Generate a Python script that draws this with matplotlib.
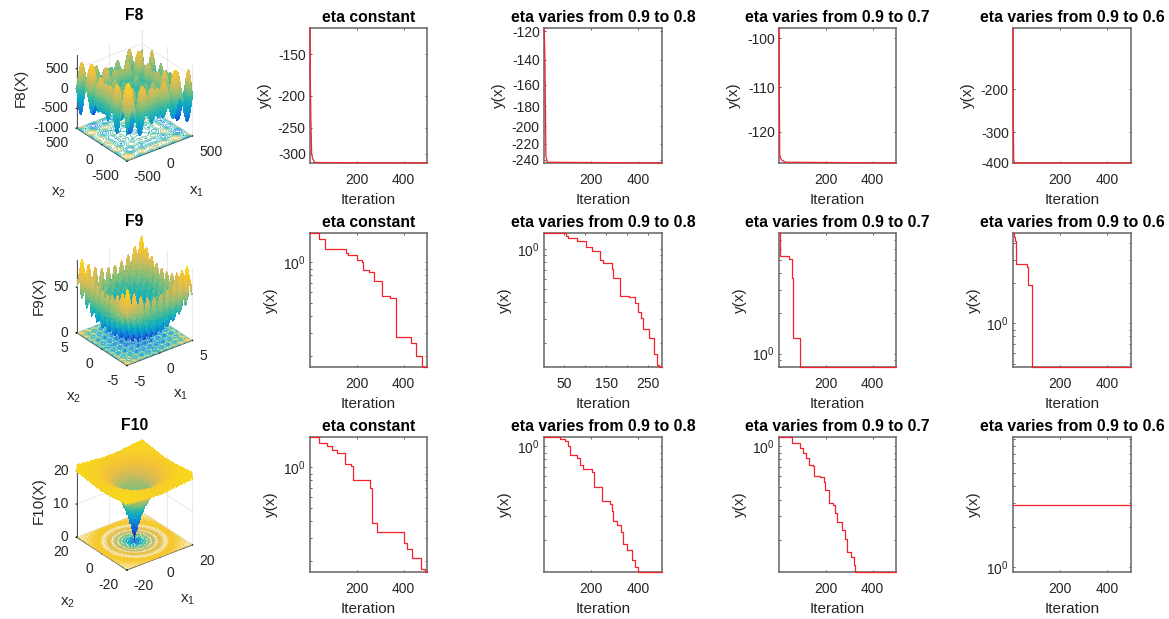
# Convergence curves and benchmark surfaces for F8, F9 and F10
# The three surfaces are the standard benchmark functions (Schwefel, Rastrigin,
# Ackley) evaluated on a grid: too dense to read off the picture point by point.
# All convergence curves below.

import numpy as np
import matplotlib
matplotlib.use('Agg')
import matplotlib.pyplot as plt
from matplotlib.colors import LinearSegmentedColormap
from mpl_toolkits.mplot3d import proj3d

plt.rcParams['font.family'] = ['Liberation Sans', 'DejaVu Sans']
plt.rcParams['axes.unicode_minus'] = False
plt.rcParams['mathtext.fontset'] = 'custom'
plt.rcParams['mathtext.rm'] = 'Liberation Sans'
plt.rcParams['mathtext.it'] = 'Liberation Sans:italic'
plt.rcParams['mathtext.bf'] = 'Liberation Sans:bold'
plt.rcParams['mathtext.default'] = 'regular'
plt.rcParams['grid.color'] = '#e2e2e2'
plt.rcParams['grid.linewidth'] = 0.5

W, H = 1169, 619
TEXT = '#262626'
LINE = '#f5222d'

TITLES = ['eta constant', 'eta varies from 0.9 to 0.8', 'eta varies from 0.9 to 0.7', 'eta varies from 0.9 to 0.6']
COL_LEFT = [310, 544, 779, 1013]
COL_RIGHT = [427, 662, 896, 1131]
ROW_TOP = [28, 233, 437]
ROW_BOTTOM = [163, 367, 572]
COL0_CENTER = 134.5

# F8, y(x) on a log scale of |y|
F8_ITER = [[1, 2, 5, 8, 12, 22, 500],
           [1, 3, 5, 9, 15, 500],
           [1, 4, 11, 28, 500],
           [1, 2, 4, 6, 500]]
F8_Y = [[-125, -174, -240, -299, -310, -319, -320],
        [-118, -125, -140, -235, -243, -244],
        [-98, -125.6, -126.7, -127.3, -127.5],
        [-112, -243, -385, -400, -400]]
F8_TICKS = [[-150, -200, -250, -300],
            [-120, -140, -160, -180, -200, -220, -240],
            [-100, -110, -120],
            [-200, -300, -400]]
F8_LIMS = [(-320, -125), (-244, -118), (-127.5, -98), (-400, -112)]

# F9, log10 of y(x)
F9_ITER = [[1, 39, 66, 154, 164, 200, 221, 228, 254, 275, 309, 342, 366, 430, 451, 478, 500],
           [1, 54, 59, 79, 102, 115, 135, 143, 163, 167, 184, 206, 219, 227, 233, 238, 253, 266, 271, 278, 284],
           [1, 5, 45, 58, 61, 67, 89, 92, 500],
           [1, 7, 11, 15, 62, 66, 81, 500]]
F9_LOGY = [[.22, .175, .1, .07, .0525, .02, 0, -.055, -.07, -.14, -.2475, -.2675, -.555, -.5975, -.695, -.78, -.78],
           [.12, .1, .0825, .0625, .015, -.0175, -.08, -.105, -.15, -.215, -.35, -.36, -.405, -.4675, -.5175, -.6, -.66, -.785, -.8675, -.88, -.88],
           [.9, .725, .705, .5625, .12, .12, -.1, -.1, -.1],
           [.675, .645, .6125, .445, .425, .2875, -.325, -.325]]
F9_LIMS = [(-.78, .22), (-.88, .12), (-.1, .9), (-.325, .675)]
F9_XMAX = [500, 284, 500, 500]

# F10, log10 of y(x)
F10_ITER = [[1, 39, 75, 93, 117, 150, 176, 183, 259, 265, 288, 404, 413, 437, 474, 491, 500],
            [1, 47, 69, 90, 104, 111, 139, 153, 167, 203, 213, 246, 280, 287, 294, 308, 327, 337, 351, 372, 386, 397, 403, 500],
            [1, 55, 92, 105, 115, 131, 145, 151, 174, 191, 198, 216, 231, 241, 248, 269, 283, 293, 308, 319, 325, 500],
            [1, 500]]
F10_LOGY = [[.2275, .1825, .1575, .1325, .1075, .025, .0075, -.0925, -.155, -.4175, -.485, -.5625, -.605, -.675, -.76, -.78, -.78],
            [.07, .07, .0575, .0375, 0, -.0675, -.0875, -.1375, -.1675, -.1925, -.3, -.4075, -.4325, -.4825, -.5575, -.5875, -.6425, -.725, -.775, -.85, -.9, -.9375, -.9375, -.9375],
            [.07, .025, -.0125, -.05, -.0875, -.1375, -.15, -.22, -.23, -.2625, -.325, -.425, -.4375, -.5, -.5675, -.625, -.6925, -.7875, -.825, -.8875, -.9375, -.9375],
            [.465, .465]]
F10_LIMS = [(-.78, .2275), (-.9375, .07), (-.9375, .07), (-.0375, .97)]

MINOR_LOG = [.2, .3, .4, .5, .6, .7, .8, .9, 2, 3, 4, 5, 6, 7, 8, 9]

# Surface panels
SURF_TITLES = ['F8', 'F9', 'F10']
SURF_ZLABELS = ['F8(X)', 'F9(X)', 'F10(X)']
SURF_XY_TICKS = [[-500, 0, 500], [-5, 0, 5], [-20, 0, 20]]
SURF_Z_TICKS = [[-1000, -500, 0, 500], [0, 50], [0, 10, 20]]
SURF_Z_LIMS = [(-1000, 840), (0, 80), (0, 22)]
SURF_STEP = [10, 0.1, 0.5]
# label offsets in pixels from the axis middle / left edge
X1_OFFSET = [(37, -43), (21, -42), (28, -42)]
X2_OFFSET = [(-43, -48), (-28, -49), (-34, -49)]
ZLABEL_DX = [-56, -38, -38]
ZLABEL_DY = [4, 0, 0]

PARULA = LinearSegmentedColormap.from_list('parula', ['#352A87', '#0F5CDD', '#1481D6', '#06A4CA', '#2EB7A4',
                                                      '#87BF77', '#D1BB59', '#F5C236', '#F6D81C'])


def f8(x, y):
    return -x * np.sin(np.sqrt(np.abs(x))) - y * np.sin(np.sqrt(np.abs(y)))


def f9(x, y):
    return 20 + x ** 2 + y ** 2 - 10 * (np.cos(2 * np.pi * x) + np.cos(2 * np.pi * y))


def f10(x, y):
    return (20 + np.e - 20 * np.exp(-0.2 * np.sqrt(0.5 * (x ** 2 + y ** 2)))
            - np.exp(0.5 * (np.cos(2 * np.pi * x) + np.cos(2 * np.pi * y))))


def axes_px(fig, left, right, top, bottom, **kw):
    return fig.add_axes([left / W, 1 - bottom / H, (right - left) / W, (bottom - top) / H], **kw)


def style_axes(ax, title, xmax, xticks, xlabels):
    ax.set_xlim(1, xmax)
    ax.set_xticks(xticks)
    ax.set_xticklabels(xlabels)
    ax.set_title(title, fontsize=11.3, fontweight='bold', color='black', pad=4)
    ax.set_xlabel('Iteration', fontsize=11, color=TEXT, labelpad=4.5)
    ax.set_ylabel('y(x)', fontsize=11, color=TEXT, labelpad=4)
    ax.tick_params(which='both', direction='in', top=True, right=True, length=1.5, width=0.6,
                   color='#404040', labelcolor=TEXT)
    ax.tick_params(axis='x', which='major', labelsize=10, pad=7)
    ax.tick_params(axis='y', which='major', labelsize=10, pad=3)
    for spine in ax.spines.values():
        spine.set_color('#707070')
        spine.set_linewidth(1.2)


def label_3d(ax, x, y, z, dx, dy, text, **kw):
    # text at a pixel offset from a point of the 3d box
    px, py, _ = proj3d.proj_transform(x, y, z, ax.get_proj())
    ax.annotate(text, xy=(px, py), xytext=(dx, dy), textcoords='offset pixels', color=TEXT,
                annotation_clip=False, **kw)


def draw_surface(fig, r, func):
    side = 140
    cy = (ROW_TOP[r] + ROW_BOTTOM[r]) / 2
    left = COL0_CENTER - 0.5135 * side
    bottom = H - cy - 0.5135 * side
    ax = fig.add_axes([left / W, bottom / H, side / W, side / H], projection='3d',
                      proj_type='ortho', computed_zorder=False)
    ax.patch.set_alpha(0)
    ticks = SURF_XY_TICKS[r]
    lim = ticks[-1]
    g = np.arange(-lim, lim + SURF_STEP[r] / 2, SURF_STEP[r])
    X, Y = np.meshgrid(g, g)
    Z = func(X, Y)
    zlo, zhi = SURF_Z_LIMS[r]
    ax.contour(X, Y, Z, levels=10, zdir='z', offset=zlo, cmap=PARULA, linewidths=0.5, zorder=1)
    ax.plot_surface(X, Y, Z, cmap=PARULA, rstride=1, cstride=1, linewidth=0, antialiased=False,
                    shade=False, zorder=2)
    ax.set_xlim(-lim, lim)
    ax.set_ylim(-lim, lim)
    ax.set_zlim(zlo, zhi)
    ax.view_init(elev=30, azim=-127.5)
    ax.set_box_aspect((1, 1, 1.02))
    ax.set_xticks(ticks)
    ax.set_yticks(ticks)
    ax.set_zticks(SURF_Z_TICKS[r])
    ax.set_xticklabels([])
    ax.set_yticklabels([])
    ax.set_zticklabels([])
    for axis in (ax.xaxis, ax.yaxis, ax.zaxis):
        axis.set_pane_color((1, 1, 1, 0))
        axis.pane.set_edgecolor('#e2e2e2')
        axis.line.set_color('#505050')
        axis.line.set_linewidth(0.7)
        axis._axinfo['tick']['inward_factor'] = 0.05
        axis._axinfo['tick']['outward_factor'] = 0

    ax.apply_aspect()
    for t in ticks:
        label_3d(ax, t, -lim, zlo, 7, -16, str(t), ha='left', va='center', fontsize=10)
        label_3d(ax, -lim, t, zlo, -8, -15, str(t), ha='right', va='center', fontsize=10)
    for t in SURF_Z_TICKS[r]:
        label_3d(ax, -lim, lim, t, -8, 0, str(t), ha='right', va='center', fontsize=10)
    label_3d(ax, 0, -lim, zlo, X1_OFFSET[r][0], X1_OFFSET[r][1], 'x$_1$', ha='center', va='center', fontsize=11)
    label_3d(ax, -lim, 0, zlo, X2_OFFSET[r][0], X2_OFFSET[r][1], 'x$_2$', ha='center', va='center', fontsize=11)
    label_3d(ax, -lim, lim, (zlo + zhi) / 2, ZLABEL_DX[r], ZLABEL_DY[r], SURF_ZLABELS[r], ha='center', va='center',
             fontsize=11, rotation=90)
    fig.text(COL0_CENTER / W, 1 - (ROW_TOP[r] - 12) / H, SURF_TITLES[r], fontsize=11.3, fontweight='bold',
             ha='center', va='center', color='black')


def draw_line(ax, iters, values, step=True):
    kw = dict(color=LINE, lw=0.9, zorder=3, clip_on=False)
    if step:
        ax.step(iters, values, where='post', **kw)
    else:
        ax.plot(iters, values, **kw)


fig = plt.figure(figsize=(W / 100, H / 100), dpi=100)

for c in range(4):
    # F8 row
    ax = axes_px(fig, COL_LEFT[c], COL_RIGHT[c], ROW_TOP[0], ROW_BOTTOM[0])
    ax.set_yscale('function', functions=(lambda v: -np.log10(np.abs(v)), lambda v: -10.0 ** (-v)))
    draw_line(ax, F8_ITER[c], F8_Y[c], step=False)
    ax.set_yticks(F8_TICKS[c])
    ax.set_yticklabels([str(t) for t in F8_TICKS[c]])
    ax.set_ylim(*F8_LIMS[c])
    style_axes(ax, TITLES[c], 500, [200, 400], ['200', '400'])

    # F9 row
    ax = axes_px(fig, COL_LEFT[c], COL_RIGHT[c], ROW_TOP[1], ROW_BOTTOM[1])
    ax.set_yscale('log')
    draw_line(ax, F9_ITER[c], 10.0 ** np.array(F9_LOGY[c]))
    ax.set_yticks([1])
    ax.set_yticks(MINOR_LOG, minor=True)
    ax.set_yticklabels(['$10^{0}$'])
    ax.set_yticklabels([], minor=True)
    ax.set_ylim(10 ** F9_LIMS[c][0], 10 ** F9_LIMS[c][1])
    if F9_XMAX[c] == 500:
        style_axes(ax, TITLES[c], 500, [200, 400], ['200', '400'])
    else:
        style_axes(ax, TITLES[c], F9_XMAX[c], [50, 100, 150, 200, 250], ['50', '', '150', '', '250'])

    # F10 row
    ax = axes_px(fig, COL_LEFT[c], COL_RIGHT[c], ROW_TOP[2], ROW_BOTTOM[2])
    ax.set_yscale('log')
    draw_line(ax, F10_ITER[c], 10.0 ** np.array(F10_LOGY[c]))
    ax.set_yticks([1])
    ax.set_yticks(MINOR_LOG, minor=True)
    ax.set_yticklabels(['$10^{0}$'])
    ax.set_yticklabels([], minor=True)
    ax.set_ylim(10 ** F10_LIMS[c][0], 10 ** F10_LIMS[c][1])
    style_axes(ax, TITLES[c], 500, [200, 400], ['200', '400'])

draw_surface(fig, 0, f8)
draw_surface(fig, 1, f9)
draw_surface(fig, 2, f10)

fig.savefig('out.png', dpi=100)
